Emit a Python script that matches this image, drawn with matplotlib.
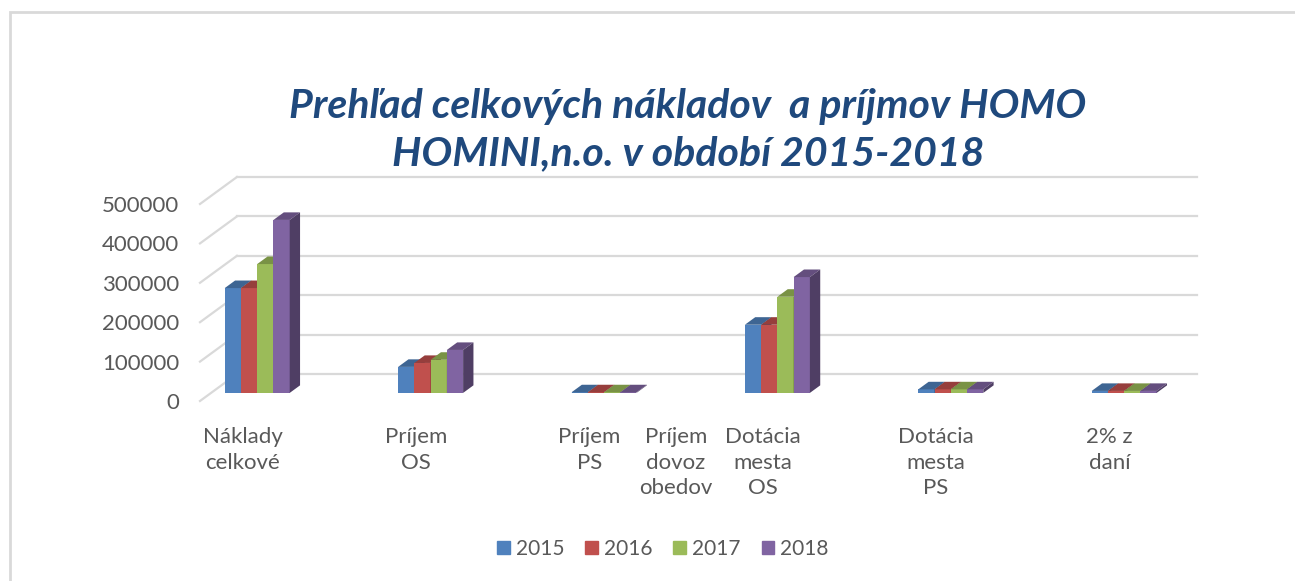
import numpy as np
import matplotlib.pyplot as plt
from matplotlib.patches import Polygon, Patch, Rectangle
import matplotlib.colors as mcolors

# data
categories = ['Náklady\ncelkové', 'Príjem\nOS', 'Príjem\nPS',
              'Dotácia\nmesta\nOS', 'Dotácia\nmesta\nPS', '2% z\ndaní']
extra_label = 'Príjem\ndovoz\nobedov'
years = ['2015', '2016', '2017', '2018']
v2015 = [266000, 66000, 1500, 173000, 9000, 5000]
v2016 = [266000, 76000, 1500, 173000, 9000, 5000]
v2017 = [327000, 84000, 1500, 244000, 9000, 5000]
v2018 = [439000, 109000, 1500, 294000, 9000, 5000]
series = [v2015, v2016, v2017, v2018]
colors = ['#4F81BD', '#C0504D', '#9BBB59', '#8064A2']
yticks = [0, 100000, 200000, 300000, 400000, 500000]
title = 'Prehľad celkových nákladov  a príjmov HOMO\nHOMINI,n.o. v období 2015-2018'

W, H = 1295, 581
fig = plt.figure(figsize=(W / 100, H / 100), dpi=100)
ax = fig.add_axes([200 / W, (H - 401) / H, 997 / W, 224 / H])
x_left, x_right = -0.33, 5.42
ax.set_xlim(x_left, x_right)
ax.set_ylim(0, 568500)
for s in ax.spines.values():
    s.set_visible(False)

# oblique depth vector (front plane -> back wall)
DX, DY = 0.213, 68500
f0, fd = 0.30, 0.28          # bar front position and bar depth, as part of DX/DY
w = 0.0937
grid_c = '#D9D9D9'
txt_c = '#595959'

for v in yticks:
    ax.plot([x_left + DX, x_right], [v + DY, v + DY], color=grid_c, lw=1.6, zorder=0, clip_on=False)
    ax.plot([x_left, x_left + DX], [v, v + DY], color=grid_c, lw=1.6, zorder=0, clip_on=False)

def shade(c, k):
    r, g, b = mcolors.to_rgb(c)
    return (r * k, g * k, b * k)

base = f0 * DY
ddx, ddy = fd * DX, fd * DY
x = np.arange(len(categories))
for j, vals in enumerate(series):
    x0 = x + (j - 2) * w
    z = 2 + j
    ax.bar(x0, vals, width=w, bottom=base, align='edge', color=colors[j], zorder=z, lw=0)
    for xi, h in zip(x0, vals):
        top = base + h
        ax.add_patch(Polygon([(xi, top), (xi + w, top), (xi + w + ddx, top + ddy), (xi + ddx, top + ddy)],
                             closed=True, fc=shade(colors[j], 0.78), ec='none', zorder=z))
        ax.add_patch(Polygon([(xi + w, base), (xi + w + ddx, base + ddy), (xi + w + ddx, top + ddy), (xi + w, top)],
                             closed=True, fc=shade(colors[j], 0.62), ec='none', zorder=z))

font = 'Lato'
ax.set_yticks(yticks)
ax.set_yticklabels([str(v) for v in yticks], fontsize=16, color=txt_c, family=font)
ax.tick_params(axis='y', length=0, pad=15)
lab_shift = -0.085
ax.set_xticks(x + lab_shift)
ax.set_xticklabels(categories, fontsize=16, color=txt_c, family=font, linespacing=1.32, va='top')
ax.tick_params(axis='x', length=0, pad=19)
ax.text(2.5 + lab_shift, -0.118, extra_label, transform=ax.get_xaxis_transform(), ha='center', va='top',
        fontsize=16, color=txt_c, family=font, linespacing=1.32)

t1, t2 = title.split('\n')
fig.text(688 / W, 1 - 118 / H, t1, ha='center', va='baseline', fontsize=29.5, fontweight='bold',
         style='italic', color='#1F497D', family=font)
fig.text(688 / W, 1 - 165 / H, t2, ha='center', va='baseline', fontsize=29.5, fontweight='bold',
         style='italic', color='#1F497D', family=font)

handles = [Patch(color=c, label=y) for c, y in zip(colors, years)]
fig.legend(handles=handles, loc='center', bbox_to_anchor=(663 / W, 1 - 549 / H), ncol=4, frameon=False,
           handlelength=0.6, handleheight=0.6, handletextpad=0.3, columnspacing=1.0,
           prop={'family': font, 'size': 15}, labelcolor=txt_c)

fig.patches.append(Rectangle((10 / W, -0.1), 1.2, (H - 12) / H + 0.1, fill=False, ec=grid_c, lw=2,
                             transform=fig.transFigure, figure=fig))

fig.savefig('out.png', dpi=100)
